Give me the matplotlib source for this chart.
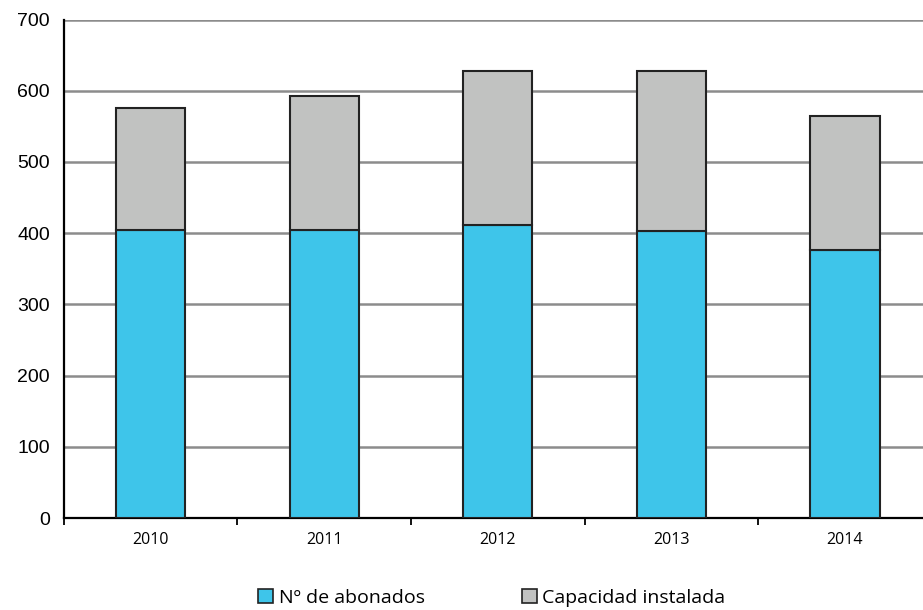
import matplotlib.pyplot as plt
from matplotlib.patches import Patch

years = ["2010", "2011", "2012", "2013", "2014"]
abonados = [405, 405, 412, 403, 377]
capacidad = [171, 188, 216, 225, 188]

blue = "#3EC5EA"
grey = "#C1C2C1"

fig = plt.figure(figsize=(9.23, 6.1), dpi=100)
ax = fig.add_axes([0.0693, 0.1508, 0.940, 0.8172])

x = list(range(len(years)))
ax.bar(x, abonados, width=0.40, color=blue, edgecolor="#222222", linewidth=1.5, zorder=3)
ax.bar(x, capacidad, width=0.40, bottom=abonados, color=grey, edgecolor="#222222",
       linewidth=1.5, zorder=3)

ax.set_xlim(-0.5, len(years) - 0.5)
ax.set_ylim(0, 700)
ax.set_yticks(range(0, 701, 100))
ax.yaxis.grid(True, color="#8C8C8C", linewidth=1.8, zorder=0)
ax.set_axisbelow(True)

for s in ["top", "right"]:
    ax.spines[s].set_visible(False)
ax.spines["left"].set_linewidth(1.6)
ax.spines["bottom"].set_linewidth(1.6)

ax.set_xticks(x)
ax.set_xticklabels(years, fontfamily="Open Sans", fontsize=11.5)
ax.set_xticks([i - 0.5 for i in range(len(years))], minor=True)
ax.tick_params(axis="x", which="major", length=0, pad=10)
ax.tick_params(axis="x", which="minor", length=5, width=1.3, direction="out")
ax.tick_params(axis="y", length=0, pad=10)
for lbl in ax.get_yticklabels():
    lbl.set_fontfamily("Liberation Sans")
    lbl.set_fontsize(14)

handles = [Patch(facecolor=blue, edgecolor="#222222", linewidth=1.2),
           Patch(facecolor=grey, edgecolor="#222222", linewidth=1.2)]
fig.legend(handles, ["Nº de abonados", "Capacidad instalada"], loc="center",
           bbox_to_anchor=(0.533, 0.02), ncol=2, frameon=False,
           prop={"family": "Open Sans", "size": 14}, handlelength=0.75, handleheight=0.75,
           handletextpad=0.3, columnspacing=5.0)

fig.savefig("out.png", dpi=100)
